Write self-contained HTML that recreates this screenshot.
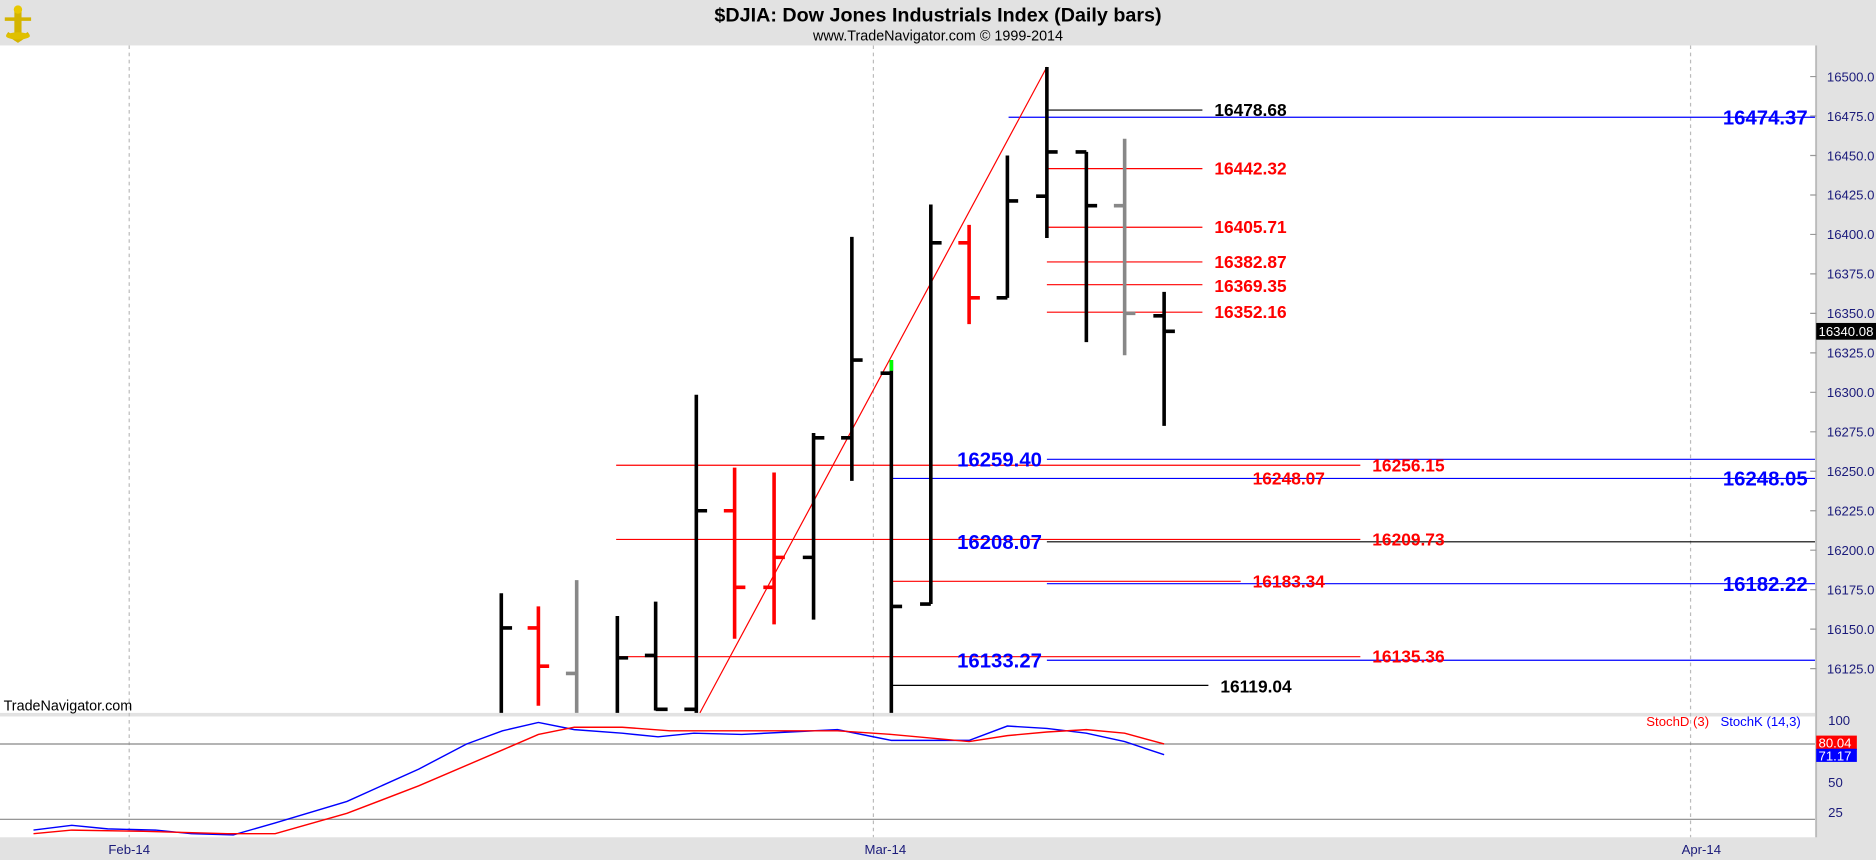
<!DOCTYPE html>
<html><head><meta charset="utf-8"><style>
html,body{margin:0;padding:0;background:#fff;}
svg{display:block;font-family:"Liberation Sans",Arial,sans-serif;}
</style></head><body>
<svg width="1876" height="860" viewBox="0 0 1568 719" preserveAspectRatio="none" xmlns="http://www.w3.org/2000/svg">
<rect x="0" y="0" width="1568" height="719" fill="#e2e2e2"/>
<rect x="0" y="38" width="1517" height="558" fill="#fff"/>
<rect x="0" y="599" width="1517" height="101" fill="#fff"/>
<line x1="1518" y1="38" x2="1518" y2="700" stroke="#bbb" stroke-width="1.5"/>
<!-- title -->
<text x="784" y="18" font-size="16.5" font-weight="bold" text-anchor="middle">$DJIA:  Dow Jones Industrials Index  (Daily bars)</text>
<text x="784" y="34" font-size="12" text-anchor="middle">www.TradeNavigator.com © 1999-2014</text>
<g transform="translate(4,2)">
<rect x="8" y="6" width="6" height="26" fill="#d4b400"/>
<circle cx="11" cy="6" r="3.5" fill="#e8c800"/>
<path d="M0 14 h22 M2 26 l9 6 l9 -6" stroke="#d4b400" stroke-width="3" fill="none"/>
<ellipse cx="11" cy="28" rx="10" ry="3" fill="#e0c000"/>
</g>
<!-- grid -->
<g stroke="#bbb" stroke-dasharray="3,3" stroke-width="1">
<line x1="108" y1="38" x2="108" y2="700"/><line x1="730" y1="38" x2="730" y2="700"/><line x1="1413" y1="38" x2="1413" y2="700"/>
</g>
<text x="3" y="594" font-size="12">TradeNavigator.com</text>
<!-- right axis -->
<g font-size="11" fill="#1a1a7a">
<text x="1527" y="68">16500.0</text><text x="1527" y="101">16475.0</text><text x="1527" y="134">16450.0</text><text x="1527" y="167">16425.0</text><text x="1527" y="200">16400.0</text><text x="1527" y="233">16375.0</text><text x="1527" y="266">16350.0</text><text x="1527" y="299">16325.0</text><text x="1527" y="332">16300.0</text><text x="1527" y="365">16275.0</text><text x="1527" y="398">16250.0</text><text x="1527" y="431">16225.0</text><text x="1527" y="464">16200.0</text><text x="1527" y="497">16175.0</text><text x="1527" y="530">16150.0</text><text x="1527" y="563">16125.0</text>
<text x="1528" y="606">100</text><text x="1528" y="658">50</text><text x="1528" y="683">25</text>
<text x="108" y="714" text-anchor="middle">Feb-14</text><text x="740" y="714" text-anchor="middle">Mar-14</text><text x="1422" y="714" text-anchor="middle">Apr-14</text>
</g>
<g stroke="#999" stroke-width="1">
<path d="M1513 64h5M1513 97h5M1513 130h5M1513 163h5M1513 196h5M1513 229h5M1513 262h5M1513 295h5M1513 328h5M1513 361h5M1513 394h5M1513 427h5M1513 460h5M1513 493h5M1513 526h5M1513 559h5"/>
</g>
<rect x="1518" y="270" width="50" height="14" fill="#000"/><text x="1520" y="281" font-size="11" fill="#fff">16340.08</text>
<rect x="1518" y="615" width="34" height="12" fill="#f00"/><text x="1520" y="625" font-size="11" fill="#fff">80.04</text>
<rect x="1518" y="626" width="34" height="11" fill="#00f"/><text x="1520" y="636" font-size="11" fill="#fff">71.17</text>
<!-- stoch panel -->
<line x1="0" y1="622" x2="1517" y2="622" stroke="#888"/>
<line x1="0" y1="685" x2="1517" y2="685" stroke="#888"/>
<text x="1376" y="607" font-size="11" fill="#f00">StochD (3)</text>
<text x="1438" y="607" font-size="11" fill="#00f">StochK (14,3)</text>
<polyline fill="none" stroke="#00f" stroke-width="1.2" points="28,694 60,690 90,693 130,694 160,697 195,698 230,688 290,670 350,643 390,622 420,611 450,604 480,610 520,613 550,616 580,613 620,614 660,612 700,610 745,619 780,619 810,619 842,607 875,609 908,613 940,620 973,631"/>
<polyline fill="none" stroke="#f00" stroke-width="1.2" points="28,697 60,694 120,695 190,697 230,697 290,680 350,657 420,627 450,614 480,608 520,608 560,611 620,611 700,611 745,614 810,620 842,615 875,612 908,610 940,613 973,622"/>
<!-- level lines -->
<g stroke-width="1">
<line x1="875" y1="92" x2="1005" y2="92" stroke="#000"/>
<line x1="843" y1="98" x2="1517" y2="98" stroke="#00f"/>
<line x1="875" y1="141" x2="1005" y2="141" stroke="#f00"/>
<line x1="875" y1="190" x2="1005" y2="190" stroke="#f00"/>
<line x1="875" y1="219" x2="1005" y2="219" stroke="#f00"/>
<line x1="875" y1="238" x2="1005" y2="238" stroke="#f00"/>
<line x1="875" y1="261" x2="1005" y2="261" stroke="#f00"/>
<line x1="875" y1="384" x2="1517" y2="384" stroke="#00f"/>
<line x1="515" y1="389" x2="1137" y2="389" stroke="#f00"/>
<line x1="745" y1="400" x2="1517" y2="400" stroke="#00f"/>
<line x1="875" y1="453" x2="1517" y2="453" stroke="#000"/>
<line x1="515" y1="451" x2="1137" y2="451" stroke="#f00"/>
<line x1="745" y1="486" x2="1037" y2="486" stroke="#f00"/>
<line x1="875" y1="488" x2="1517" y2="488" stroke="#00f"/>
<line x1="515" y1="549" x2="1137" y2="549" stroke="#f00"/>
<line x1="875" y1="552" x2="1517" y2="552" stroke="#00f"/>
<line x1="745" y1="573" x2="1010" y2="573" stroke="#000"/>
</g>
<line x1="585" y1="596" x2="875" y2="56" stroke="#f00" stroke-width="1"/>
<!-- bars -->
<g stroke-width="3" fill="none">
<path stroke="#000" d="M419 496V596M419 525h9"/>
<path stroke="#f00" d="M450 507V590M450 525h-9M450 557h9"/>
<path stroke="#888" d="M482 485V596M482 563h-9"/>
<path stroke="#000" d="M516 515V596M516 550h9"/>
<path stroke="#000" d="M548 503V594M548 548h-9M548 593h10"/>
<path stroke="#000" d="M582 330V596M582 593h-10M582 427h9"/>
<path stroke="#f00" d="M614 391V534M614 427h-9M614 491h9"/>
<path stroke="#f00" d="M647 395V522M647 491h-9M647 466h9"/>
<path stroke="#000" d="M680 362V518M680 466h-9M680 366h9"/>
<path stroke="#000" d="M712 198V402M712 366h-9M712 301h9"/>
<path stroke="#000" d="M745 301V596M745 312h-9M745 507h9"/>
<path stroke="#0f0" d="M745 301V310"/>
<path stroke="#000" d="M778 171V505M778 505h-9M778 203h9"/>
<path stroke="#f00" d="M810 188V271M810 203h-9M810 249h9"/>
<path stroke="#000" d="M842 130V249M842 249h-9M842 168h9"/>
<path stroke="#000" d="M875 56V199M875 164h-9M875 127h9"/>
<path stroke="#000" d="M908 127V286M908 127h-9M908 172h9"/>
<path stroke="#888" d="M940 116V297M940 172h-9M940 262h9"/>
<path stroke="#000" d="M973 244V356M973 264h-9M973 277h9"/>
</g>
<!-- labels -->
<g font-size="14.5" font-weight="bold">
<text x="1015" y="97" fill="#000">16478.68</text>
<text x="1015" y="146" fill="#f00">16442.32</text>
<text x="1015" y="195" fill="#f00">16405.71</text>
<text x="1015" y="224" fill="#f00">16382.87</text>
<text x="1015" y="244" fill="#f00">16369.35</text>
<text x="1015" y="266" fill="#f00">16352.16</text>
<text x="1147" y="394" fill="#f00">16256.15</text>
<text x="1047" y="405" fill="#f00">16248.07</text>
<text x="1147" y="456" fill="#f00">16209.73</text>
<text x="1047" y="491" fill="#f00">16183.34</text>
<text x="1147" y="554" fill="#f00">16135.36</text>
<text x="1020" y="579" fill="#000">16119.04</text>
</g>
<g font-size="17" font-weight="bold" fill="#00f">
<text x="1440" y="104">16474.37</text>
<text x="1440" y="406">16248.05</text>
<text x="1440" y="494">16182.22</text>
<text x="800" y="390">16259.40</text>
<text x="800" y="459">16208.07</text>
<text x="800" y="558">16133.27</text>
</g>
</svg>
</body></html>
